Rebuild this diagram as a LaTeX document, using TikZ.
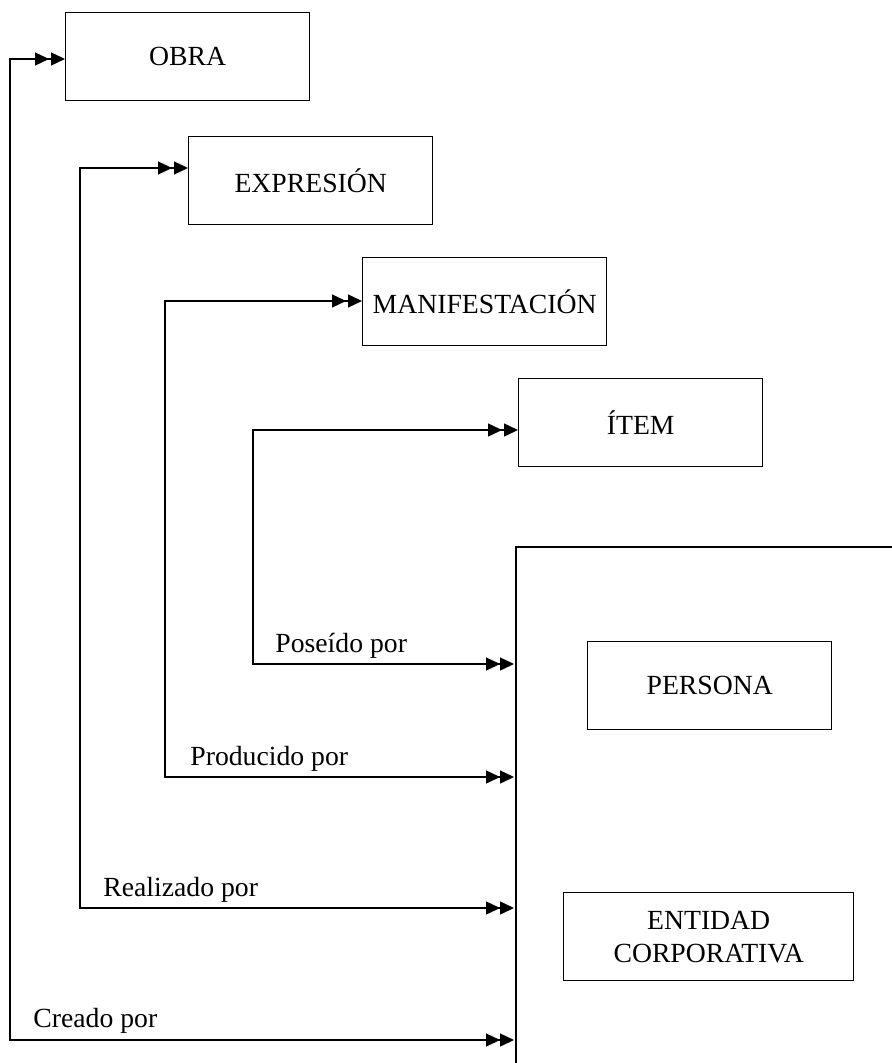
\documentclass[tikz,border=0pt]{standalone}
\usepackage{xcolor}
\usepackage{fontspec}
\setmainfont{Liberation Serif}
\usetikzlibrary{arrows.meta}

\tikzset{
	caja/.style={draw, line width=0.7pt, anchor=north west, minimum width=122pt,
		minimum height=44pt, inner sep=0pt, align=center,
		font=\fontsize{13.85}{16.6}\selectfont},
	etiqueta/.style={anchor=base west, inner sep=0pt, font=\fontsize{13.85}{16.6}\selectfont},
	conector/.style={line width=0.7pt,
		{Triangle[length=7pt,width=6.5pt,sep=1pt]Triangle[length=7pt,width=6.5pt]}-{Triangle[length=7pt,width=6.5pt,sep=1pt]Triangle[length=7pt,width=6.5pt]}}
}

\begin{document}
\begin{tikzpicture}[x=0.5pt, y=-0.5pt]
	
	    \useasboundingbox (0,0) rectangle (892,1063);
	
	    % entidades del grupo 1
	    \node[caja] (obra) at (65,12) {OBRA};
	    \node[caja] (expresion) at (188,136) {EXPRESIÓN};
	    \node[caja] (manifestacion) at (362,257) {MANIFESTACIÓN};
	    \node[caja] (item) at (518,378) {ÍTEM};
	
	    % entidades del grupo 2
	    \coordinate (grupo) at (516,547);
	    \draw[line width=0.7pt] (grupo |- 0,1063) -- (grupo) -- (892,547);
	    \node[caja] (persona) at (587,641) {PERSONA};
	    \node[caja, minimum width=145pt] (entidad) at (563,892) {ENTIDAD\\CORPORATIVA};
	
	    % relaciones
	    \draw[conector] (grupo |- 0,1040) -| (10,59) -- (obra.west |- 0,59);
	    \draw[conector] (grupo |- 0,908) -| (80,168) -- (expresion.west |- 0,168);
	    \draw[conector] (grupo |- 0,777) -| (165,301) -- (manifestacion.west |- 0,301);
	    \draw[conector] (grupo |- 0,664) -| (253,430) -- (item.west |- 0,430);
	
	    \node[etiqueta] (creado) at (33,1027) {Creado por};
	    \node[etiqueta] (realizado) at (103,896) {Realizado por};
	    \node[etiqueta] (producido) at (190,765) {Producido por};
	    \node[etiqueta] (poseido) at (275,652) {Poseído por};
	
	\end{tikzpicture}
\end{document}
